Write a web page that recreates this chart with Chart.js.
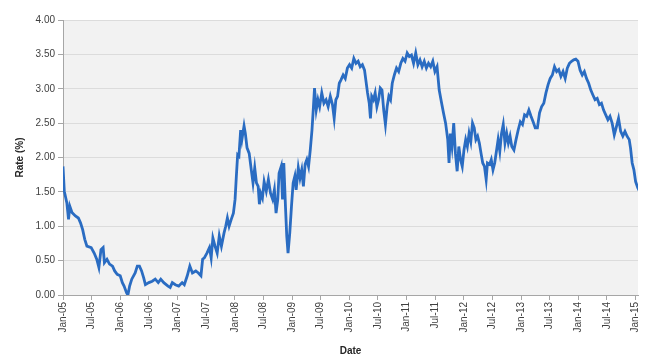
<!DOCTYPE html>
<html>
<head>
<meta charset="utf-8">
<script src="https://cdn.jsdelivr.net/npm/chart.js@4/dist/chart.umd.min.js"></script>
<style>
  html, body { margin: 0; padding: 0; background: #ffffff; }
  #wrap { width: 666px; height: 357px; }
</style>
</head>
<body>
<div id="wrap"><canvas id="c" width="666" height="357"></canvas></div>
<script>
// Months since Jan-2005 (x) and rate in percent (y)
const months = [
  0, 0.27, 0.81, 1.16, 1.43, 1.88, 2.60, 3.22, 3.67, 4.12, 4.56, 5.01, 5.91, 6.53, 7.07, 7.52, 7.96, 8.41, 8.68, 9.22,
  9.75, 10.38, 10.83, 11.36, 11.99, 12.44, 12.80, 13.33, 13.60, 13.96, 14.41, 15.12, 15.57, 16.02, 16.47, 16.91, 17.27, 17.99, 18.70, 19.33,
  19.96, 20.49, 21.12, 22.01, 22.46, 22.91, 23.54, 24.25, 24.97, 25.42, 26.04, 26.58, 27.12, 27.83, 28.37, 28.91, 29.26, 29.62, 30.16, 30.69,
  31.05, 31.41, 31.86, 32.31, 32.75, 33.20, 33.74, 34.10, 34.45, 34.81, 35.26, 35.71, 36.06, 36.33, 36.60, 36.87, 37.23, 37.49, 37.94, 38.21,
  38.57, 39.02, 39.46, 39.82, 40.18, 40.54, 40.90, 41.16, 41.43, 41.79, 42.15, 42.60, 43.04, 43.49, 43.94, 44.30, 44.65, 45.01, 45.28, 45.73,
  46.00, 46.27, 46.62, 46.89, 47.16, 47.52, 47.88, 48.23, 48.59, 48.86, 49.31, 49.67, 50.03, 50.38, 50.74, 51.10, 51.46, 51.82, 52.18, 52.44,
  52.71, 53.07, 53.43, 53.78, 54.23, 54.68, 55.13, 55.57, 56.02, 56.47, 56.83, 57.18, 57.54, 57.90, 58.26, 58.71, 59.15, 59.60, 60.05, 60.50,
  60.95, 61.40, 61.85, 62.29, 62.74, 63.19, 63.46, 63.82, 64.18, 64.43, 64.70, 65.06, 65.42, 65.78, 66.13, 66.49, 66.85, 67.21, 67.57, 67.93,
  68.28, 68.64, 69.00, 69.44, 69.89, 70.34, 70.79, 71.23, 71.68, 72.13, 72.58, 73.02, 73.47, 73.92, 74.37, 74.81, 75.26, 75.71, 76.15, 76.60,
  77.05, 77.50, 77.94, 78.39, 78.84, 79.29, 79.73, 80.18, 80.63, 80.90, 81.17, 81.52, 81.88, 82.24, 82.60, 82.95, 83.31, 83.67, 84.03, 84.39,
  84.74, 85.10, 85.46, 85.82, 86.18, 86.53, 86.89, 87.25, 87.61, 87.96, 88.32, 88.68, 88.95, 89.40, 89.75, 90.11, 90.47, 90.83, 91.19, 91.54,
  91.90, 92.26, 92.62, 92.98, 93.33, 93.69, 94.05, 94.50, 94.94, 95.39, 95.84, 96.29, 96.73, 97.18, 97.63, 98.08, 98.52, 98.97, 99.42, 99.87,
  100.31, 100.76, 101.21, 101.66, 102.10, 102.55, 103.00, 103.45, 103.89, 104.34, 104.79, 105.24, 105.68, 106.13, 106.58, 107.03, 107.47, 107.92, 108.37, 108.82,
  109.26, 109.71, 110.16, 110.61, 111.05, 111.50, 111.95, 112.40, 112.84, 113.29, 113.74, 114.19, 114.63, 115.08, 115.53, 115.98, 116.42, 116.87, 117.32, 117.77,
  118.21, 118.66, 118.93, 119.28, 119.64, 120.00, 120.45, 120.72
];
const rates = [
  1.87, 1.51, 1.34, 1.10, 1.29, 1.20, 1.15, 1.12, 1.05, 0.95, 0.81, 0.71, 0.69, 0.61, 0.52, 0.40, 0.66, 0.69, 0.47, 0.52,
  0.45, 0.42, 0.35, 0.30, 0.28, 0.18, 0.13, 0.03, 0.00, 0.13, 0.23, 0.32, 0.42, 0.42, 0.35, 0.25, 0.15, 0.18, 0.20, 0.23,
  0.18, 0.23, 0.18, 0.13, 0.11, 0.18, 0.15, 0.13, 0.18, 0.15, 0.28, 0.42, 0.32, 0.35, 0.32, 0.28, 0.52, 0.54, 0.61, 0.69,
  0.54, 0.83, 0.71, 0.61, 0.86, 0.71, 0.90, 1.00, 1.12, 1.00, 1.10, 1.19, 1.39, 1.73, 2.04, 2.02, 2.40, 2.26, 2.46, 2.35,
  2.14, 2.06, 1.82, 1.63, 1.85, 1.63, 1.58, 1.32, 1.48, 1.41, 1.65, 1.51, 1.68, 1.48, 1.39, 1.53, 1.19, 1.39, 1.77, 1.87,
  1.39, 1.92, 1.29, 0.86, 0.61, 0.90, 1.29, 1.63, 1.73, 1.53, 1.85, 1.70, 1.82, 1.58, 1.90, 1.97, 1.87, 2.11, 2.40, 2.69,
  3.01, 2.69, 2.84, 2.74, 2.94, 2.79, 2.84, 2.74, 2.89, 2.77, 2.57, 2.84, 2.89, 3.08, 3.13, 3.20, 3.15, 3.30, 3.35, 3.30,
  3.44, 3.37, 3.40, 3.32, 3.35, 3.27, 3.13, 2.94, 2.79, 2.57, 2.89, 2.84, 2.94, 2.74, 2.84, 3.01, 2.98, 2.69, 2.48, 2.74,
  2.89, 2.84, 3.08, 3.20, 3.30, 3.25, 3.37, 3.44, 3.40, 3.52, 3.47, 3.49, 3.37, 3.52, 3.35, 3.42, 3.32, 3.40, 3.30, 3.37,
  3.32, 3.40, 3.25, 3.32, 2.98, 2.81, 2.65, 2.50, 2.26, 1.92, 2.35, 2.16, 2.50, 2.06, 1.80, 2.16, 1.97, 1.87, 2.11, 2.26,
  2.16, 2.35, 2.23, 2.50, 2.43, 2.26, 2.31, 2.21, 2.06, 1.92, 1.87, 1.68, 1.92, 1.90, 1.97, 1.82, 1.92, 2.09, 2.26, 2.09,
  2.35, 2.48, 2.21, 2.35, 2.21, 2.31, 2.16, 2.11, 2.26, 2.40, 2.52, 2.48, 2.62, 2.60, 2.69, 2.60, 2.52, 2.43, 2.43, 2.65,
  2.74, 2.79, 2.94, 3.06, 3.15, 3.20, 3.32, 3.25, 3.28, 3.18, 3.25, 3.15, 3.30, 3.37, 3.40, 3.42, 3.43, 3.40, 3.27, 3.20,
  3.25, 3.15, 3.08, 2.98, 2.91, 2.84, 2.86, 2.77, 2.79, 2.69, 2.62, 2.55, 2.60, 2.50, 2.33, 2.45, 2.57, 2.38, 2.31, 2.38,
  2.31, 2.26, 2.14, 1.92, 1.82, 1.65, 1.56, 1.52
];
const xTickMonths = [0, 6, 12, 18, 24, 30, 36, 42, 48, 54, 60, 66, 72, 78, 84, 90, 96, 102, 108, 114, 120];
const xTickLabels = ['Jan-05','Jul-05','Jan-06','Jul-06','Jan-07','Jul-07','Jan-08','Jul-08','Jan-09','Jul-09',
  'Jan-10','Jul-10','Jan-11','Jul-11','Jan-12','Jul-12','Jan-13','Jul-13','Jan-14','Jul-14','Jan-15'];
const yTicks = [0, 0.5, 1, 1.5, 2, 2.5, 3, 3.5, 4];

const points = months.map((m, i) => ({ x: m, y: rates[i] }));
const FONT = 'Liberation Sans, Arial, sans-serif';

const plotBg = {
  id: 'plotBg',
  beforeDraw(chart) {
    const a = chart.chartArea, ctx = chart.ctx;
    ctx.save();
    ctx.fillStyle = '#f2f2f2';
    ctx.fillRect(a.left, a.top, a.right - a.left, a.bottom - a.top);
    ctx.restore();
  }
};

new Chart(document.getElementById('c'), {
  type: 'line',
  data: {
    datasets: [{
      data: points,
      borderColor: '#2a6cc2',
      borderWidth: 2.8,
      pointRadius: 0,
      tension: 0,
      fill: false
    }]
  },
  options: {
    responsive: false,
    animation: false,
    layout: { padding: { left: 0, right: 28, top: 20, bottom: 0 } },
    plugins: { legend: { display: false }, tooltip: { enabled: false } },
    scales: {
      x: {
        type: 'linear',
        min: 0,
        max: 120.5,
        afterBuildTicks(scale) { scale.ticks = xTickMonths.map(v => ({ value: v })); },
        afterFit(scale) { scale.height = 62; },
        border: { display: true, color: '#a6a6a6', width: 1 },
        grid: { display: true, drawOnChartArea: false, drawTicks: true, tickLength: 5, color: '#a6a6a6' },
        ticks: {
          autoSkip: false,
          minRotation: 90,
          maxRotation: 90,
          padding: 2,
          color: '#404040',
          font: { family: FONT, size: 10 },
          callback(v) { const i = xTickMonths.indexOf(v); return i >= 0 ? xTickLabels[i] : ''; }
        },
        title: {
          display: true,
          text: 'Date',
          color: '#262626',
          font: { family: FONT, size: 10, weight: 'bold' },
          padding: { top: 1, bottom: 0 }
        }
      },
      y: {
        min: 0,
        max: 4,
        afterBuildTicks(scale) { scale.ticks = yTicks.map(v => ({ value: v })); },
        afterFit(scale) { scale.width = 63; },
        border: { display: true, color: '#a6a6a6', width: 1 },
        grid: { color: '#dcdcdc', tickColor: '#a6a6a6', tickLength: 5, lineWidth: 1 },
        ticks: {
          padding: 3,
          color: '#404040',
          font: { family: FONT, size: 10 },
          callback(v) { return Number(v).toFixed(2); }
        },
        title: {
          display: true,
          text: 'Rate (%)',
          color: '#262626',
          font: { family: FONT, size: 10, weight: 'bold' },
          padding: { top: 14, bottom: 0 }
        }
      }
    }
  },
  plugins: [plotBg]
});
</script>
</body>
</html>
